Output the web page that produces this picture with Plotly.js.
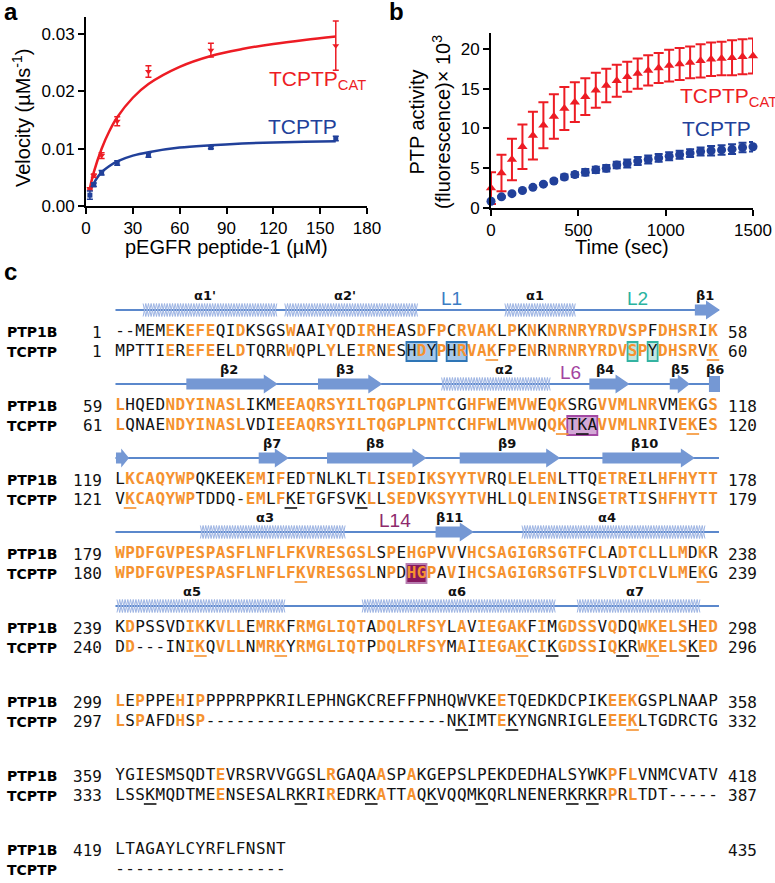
<!DOCTYPE html>
<html><head><meta charset="utf-8">
<script src="https://cdn.plot.ly/plotly-3.0.1.min.js"></script>
<style>html,body{margin:0;padding:0;background:#fff}</style>
</head><body><div id="chart" style="width:775px;height:883px"></div>
<script>
// ---------- Panel a: Michaelis-Menten ----------
const substrateUM = [2.5, 5, 10, 20, 40, 80, 160];
const velocityCat = [0.0030, 0.0053, 0.0088, 0.0148, 0.0235, 0.0272, 0.0280];
const velocityCatErr = [0.0002, 0.0003, 0.0005, 0.0008, 0.0010, 0.0012, 0.0043];
const velocityFull = [0.0019, 0.0037, 0.0058, 0.0075, 0.0089, 0.0102, 0.0118];
const velocityFullErr = [0.0007, 0.0003, 0.0004, 0.0004, 0.0004, 0.0002, 0.0004];
const fitSubstrate = [2.5, 5, 10, 15, 20, 30, 40, 60, 80, 100, 120, 140, 160];
const fitCat = [0.0031, 0.0059, 0.0100, 0.0131, 0.0155, 0.0189, 0.0213, 0.0243, 0.0262, 0.0274, 0.0283, 0.0290, 0.0296];
const fitFull = [0.0027, 0.0040, 0.0059, 0.0070, 0.0078, 0.0088, 0.0094, 0.0102, 0.0106, 0.0109, 0.0111, 0.0112, 0.0113];
const xTicksA = [0, 30, 60, 90, 120, 150, 180];
const yTicksA = [0, 0.01, 0.02, 0.03];
const yTickTextA = ['0.00', '0.01', '0.02', '0.03'];

// ---------- Panel b: time course ----------
const timeSec = [0, 60, 120, 180, 240, 300, 360, 420, 480, 540, 600, 660, 720, 780, 840, 900, 960, 1020, 1080, 1140, 1200, 1260, 1320, 1380, 1440, 1500];
const activityCat = [2.5, 4.4, 6.1, 7.7, 9.1, 10.4, 11.5, 12.5, 13.3, 14.0, 14.8, 15.4, 16.0, 16.5, 16.9, 17.3, 17.6, 17.9, 18.1, 18.3, 18.5, 18.7, 18.8, 18.9, 19.0, 19.1];
const activityCatErr = [2.0, 2.3, 2.6, 2.8, 3.0, 2.9, 2.8, 2.7, 2.5, 2.3, 2.2, 2.1, 2.0, 1.9, 1.9, 1.9, 1.9, 2.0, 2.0, 2.0, 2.1, 2.1, 2.1, 2.2, 2.2, 2.2];
const activityFull = [0.85, 1.4, 1.8, 2.2, 2.6, 3.0, 3.4, 3.9, 4.2, 4.5, 4.8, 5.0, 5.4, 5.6, 5.9, 6.1, 6.3, 6.5, 6.7, 6.9, 7.1, 7.2, 7.3, 7.4, 7.6, 7.7];
const activityFullErr = [0.1, 0.1, 0.1, 0.1, 0.1, 0.1, 0.2, 0.3, 0.3, 0.4, 0.4, 0.4, 0.4, 0.5, 0.5, 0.5, 0.5, 0.5, 0.5, 0.5, 0.5, 0.6, 0.6, 0.6, 0.6, 0.6];
const xTicksB = [0, 500, 1000, 1500];
const yTicksB = [0, 5, 10, 15, 20];

// ---------- Panel c: alignment ----------
const seqNames = ['PTP1B', 'TCPTP'];
const ptp1bBlocks = [
  '--MEMEKEFEQIDKSGSWAAIYQDIRHEASDFPCRVAKLPKNKNRNRYRDVSPFDHSRIK',
  'LHQEDNDYINASLIKMEEAQRSYILTQGPLPNTCGHFWEMVWEQKSRGVVMLNRVMEKGS',
  'LKCAQYWPQKEEKEMIFEDTNLKLTLISEDIKSYYTVRQLELENLTTQETREILHFHYTT',
  'WPDFGVPESPASFLNFLFKVRESGSLSPEHGPVVVHCSAGIGRSGTFCLADTCLLLMDKR',
  'KDPSSVDIKKVLLEMRKFRMGLIQTADQLRFSYLAVIEGAKFIMGDSSVQDQWKELSHED',
  'LEPPPEHIPPPPRPPKRILEPHNGKCREFFPNHQWVKEETQEDKDCPIKEEKGSPLNAAP',
  'YGIESMSQDTEVRSRVVGGSLRGAQAASPAKGEPSLPEKDEDHALSYWKPFLVNMCVATV',
  'LTAGAYLCYRFLFNSNT'
];
const tcptpBlocks = [
  'MPTTIEREFEELDTQRRWQPLYLEIRNESHDYPHRVAKFPENRNRNRYRDVSPYDHSRVK',
  'LQNAENDYINASLVDIEEAQRSYILTQGPLPNTCCHFWLMVWQQKTKAVVMLNRIVEKES',
  'VKCAQYWPTDDQ-EMLFKETGFSVKLLSEDVKSYYTVHLLQLENINSGETRTISHFHYTT',
  'WPDFGVPESPASFLNFLFKVRESGSLNPDHGPAVIHCSAGIGRSGTFSLVDTCLVLMEKG',
  'DD---INIKQVLLNMRKYRMGLIQTPDQLRFSYMAIIEGAKCIKGDSSIQKRWKELSKED',
  'LSPAFDHSP------------------------NKIMTEKYNGNRIGLEEEKLTGDRCTG',
  'LSSKMQDTMEENSESALRKRIREDRKATTAQKVQQMKQRLNENERKRKRPRLTDT-----',
  '-----------------'
];
// underlined TCPTP columns per block
const tcptpUnderlined = [[37, 59], [44, 46, 57], [1, 17, 24], [18, 58], [8, 16, 40, 43, 50, 53, 57], [34, 39, 51], [3, 18, 25, 31, 36, 45, 47], []];
// boxed TCPTP residues: block, first column, last column, loop
const boxBlock = [0, 0, 0, 0, 1, 3];
const boxFrom = [29, 33, 51, 53, 45, 29];
const boxTo = [31, 34, 51, 53, 47, 30];
const boxLoop = ['L1', 'L1', 'L2', 'L2', 'L6', 'L14'];
// secondary structure (column units)
const helixBlock = [0, 0, 0, 1, 3, 3, 4, 4, 4];
const helixFrom = [2.3, 16.4, 38.3, 32.0, 8.0, 40.0, -0.3, 24.1, 45.5];
const helixTo = [15.6, 29.6, 45.3, 42.8, 22.4, 58.2, 16.4, 43.3, 57.7];
const strandBlock = [0, 1, 1, 1, 1, 1, 2, 2, 2, 2, 2, 3];
const strandFrom = [57.2, 6.6, 19.7, 46.7, 54.7, 58.6, -0.4, 13.8, 20.6, 33.8, 48.0, 31.4];
const strandTo = [59.7, 15.7, 26.1, 50.7, 56.7, 59.7, 0.9, 16.8, 30.5, 43.8, 57.2, 35.2];
const strandHead = [true, true, true, true, true, false, true, true, true, true, true, true];
const ssLineBlocks = [0, 1, 2, 3, 4];
const ssLabelBlock = [0, 0, 0, 0, 0, 0, 1, 1, 1, 1, 1, 1, 1, 2, 2, 2, 2, 3, 3, 3, 3, 4, 4, 4];
const ssLabelText = ["α1'", "α2'", 'L1', 'α1', 'L2', 'β1', 'β2', 'β3', 'α2', 'L6', 'β4', 'β5', 'β6', 'β7', 'β8', 'β9', 'β10', 'α3', 'L14', 'β11', 'α4', 'α5', 'α6', 'α7'];
const ssLabelCol = [8.5, 22.4, 33.0, 41.3, 51.5, 58.2, 10.8, 22.4, 38.2, 44.8, 48.3, 55.7, 59.2, 15.1, 25.4, 38.5, 52.2, 14.4, 27.4, 32.8, 48.5, 7.2, 33.5, 51.2];

// ---------- styles ----------
const RED = '#ED1C24', BLUE = '#21409A', ORANGE = '#F5922F';
const SANS = 'Liberation Sans, Arial, sans-serif';
const MONO = 'DejaVu Sans Mono, monospace';
const LOOP = {
  L1: {text: '#3C7DC4', line: '#2E75B6', fill: '#A7C8E8'},
  L2: {text: '#2AB3A0', line: '#34B3A2', fill: '#C4E6E0'},
  L6: {text: '#A3449F', line: '#A349A4', fill: '#D3A8D6'},
  L14: {text: '#8E2A6C', line: '#B77DB0', fill: '#86195F'}
};
const W = 775, H = 883;
const X0 = 120, CW = 10.05;
const colX = c => X0 + CW * c;
const rowP = b => 332 + 74 * b;
const rowT = b => rowP(b) + 19.5;
const rowS = b => rowP(b) - 22;
const px = x => x / W, py = y => 1 - y / H;

const traces = [];
// panel a
traces.push({x: fitSubstrate, y: fitCat, mode: 'lines', line: {color: RED, width: 2.5, shape: 'spline'}, xaxis: 'x', yaxis: 'y', hoverinfo: 'skip'});
traces.push({x: fitSubstrate, y: fitFull, mode: 'lines', line: {color: BLUE, width: 2.5, shape: 'spline'}, xaxis: 'x', yaxis: 'y', hoverinfo: 'skip'});
traces.push({x: substrateUM, y: velocityCat, mode: 'markers', marker: {symbol: 'triangle-down', size: 6, color: RED},
  error_y: {type: 'data', array: velocityCatErr, color: RED, thickness: 1.5, width: 3}, xaxis: 'x', yaxis: 'y', cliponaxis: false});
traces.push({x: substrateUM, y: velocityFull, mode: 'markers', marker: {symbol: 'square', size: 5, color: BLUE},
  error_y: {type: 'data', array: velocityFullErr, color: BLUE, thickness: 1.5, width: 3}, xaxis: 'x', yaxis: 'y', cliponaxis: false});
// panel b
traces.push({x: timeSec, y: activityCat, mode: 'markers', marker: {symbol: 'triangle-up', size: 9, color: RED},
  error_y: {type: 'data', array: activityCatErr, color: RED, thickness: 2, width: 5}, xaxis: 'x2', yaxis: 'y2', cliponaxis: false});
traces.push({x: timeSec, y: activityFull, mode: 'markers', marker: {symbol: 'circle', size: 9, color: BLUE},
  error_y: {type: 'data', array: activityFullErr, color: BLUE, thickness: 2, width: 4}, xaxis: 'x2', yaxis: 'y2', cliponaxis: false});

// panel c: secondary structure
const lx = [], ly = [];
ssLineBlocks.forEach(b => { lx.push(colX(-0.45), colX(59.6), null); ly.push(rowS(b), rowS(b), null); });
traces.push({x: lx, y: ly, mode: 'lines', line: {color: '#5B88CC', width: 2}, xaxis: 'x3', yaxis: 'y3', hoverinfo: 'skip'});
const hx = [], hy = [];
helixBlock.forEach((b, i) => {
  const x0 = colX(helixFrom[i]), x1 = colX(helixTo[i]);
  const n = Math.max(2, Math.round((x1 - x0) / 2.7));
  for (const ph of [1, -1]) {
    for (let k = 0; k <= n; k++) { hx.push(x0 + k * (x1 - x0) / n); hy.push(rowS(b) + ph * (k % 2 ? 6.5 : -6.5)); }
    hx.push(null); hy.push(null);
  }
});
traces.push({x: hx, y: hy, mode: 'lines', line: {color: '#9DB4E3', width: 1}, xaxis: 'x3', yaxis: 'y3', hoverinfo: 'skip'});
strandBlock.forEach((b, i) => {
  const x0 = colX(strandFrom[i]), x1 = colX(strandTo[i]), y = rowS(b);
  let xs, ys;
  if (strandHead[i]) {
    const hl = Math.min(14, (x1 - x0) * 0.6);
    xs = [x0, x1 - hl, x1 - hl, x1, x1 - hl, x1 - hl, x0, x0];
    ys = [y - 5.5, y - 5.5, y - 9.5, y, y + 9.5, y + 5.5, y + 5.5, y - 5.5];
  } else {
    xs = [x0, x1, x1, x0, x0]; ys = [y - 8, y - 8, y + 8, y + 8, y - 8];
  }
  traces.push({x: xs, y: ys, mode: 'lines', fill: 'toself', fillcolor: '#7598D4', line: {width: 0, color: '#7598D4'}, xaxis: 'x3', yaxis: 'y3', hoverinfo: 'skip'});
});

// panel c: residues
const oX = [], oY = [], oT = [], kX = [], kY = [], kT = [];
ptp1bBlocks.forEach((pSeq, b) => {
  const tSeq = tcptpBlocks[b];
  for (let c = 0; c < pSeq.length; c++) {
    const a = pSeq[c], t = tSeq[c];
    const same = a === t && a !== '-';
    [[a, rowP(b)], [t, rowT(b)]].forEach(([ch, y]) => {
      if (same) { oX.push(colX(c)); oY.push(y); oT.push(ch); }
      else { kX.push(colX(c)); kY.push(y); kT.push(ch); }
    });
  }
});
traces.push({x: kX, y: kY, text: kT, mode: 'text', textposition: 'middle center', textfont: {family: MONO, size: 16, color: '#111'}, xaxis: 'x3', yaxis: 'y3', hoverinfo: 'skip', cliponaxis: false});
traces.push({x: oX, y: oY, text: oT, mode: 'text', textposition: 'middle center', textfont: {family: MONO, size: 16, color: ORANGE, weight: 'bold'}, xaxis: 'x3', yaxis: 'y3', hoverinfo: 'skip', cliponaxis: false});
// underlines
const uX = [], uY = [], uC = [];
tcptpUnderlined.forEach((cols, b) => cols.forEach(c => {
  uX.push(colX(c)); uY.push(rowT(b) + 8.5);
  uC.push(ptp1bBlocks[b][c] === tcptpBlocks[b][c] ? ORANGE : '#111');
}));
traces.push({x: uX, y: uY, mode: 'markers', marker: {symbol: 'line-ew', size: 9, line: {width: 1.6, color: uC}}, xaxis: 'x3', yaxis: 'y3', hoverinfo: 'skip', cliponaxis: false});

// shapes: boxes
const shapes = boxBlock.map((b, i) => ({
  type: 'rect', xref: 'x3', yref: 'y3', layer: 'below',
  x0: colX(boxFrom[i]) - 5, x1: colX(boxTo[i]) + 5, y0: rowT(b) - 9.5, y1: rowT(b) + 9.5,
  line: {color: LOOP[boxLoop[i]].line, width: 1.8}, fillcolor: LOOP[boxLoop[i]].fill
}));

// annotations
const ann = [];
const A = (o) => ann.push(Object.assign({showarrow: false, xref: 'paper', yref: 'paper', yanchor: 'middle'}, o));
A({x: px(2), y: py(11), xanchor: 'left', text: '<b>a</b>', font: {family: SANS, size: 24}});
A({x: px(387), y: py(11), xanchor: 'left', text: '<b>b</b>', font: {family: SANS, size: 24}});
A({x: px(2), y: py(272), xanchor: 'left', text: '<b>c</b>', font: {family: SANS, size: 24}});
A({x: px(226), y: py(247), xanchor: 'center', text: 'pEGFR peptide-1 (µM)', font: {family: SANS, size: 20}});
A({x: px(22), y: py(118), xanchor: 'center', textangle: -90, text: 'Velocity (µMs<sup>-1</sup>)', font: {family: SANS, size: 20}});
A({x: px(622), y: py(247), xanchor: 'center', text: 'Time (sec)', font: {family: SANS, size: 20}});
A({x: px(430), y: py(122), xanchor: 'center', textangle: -90, text: 'PTP activity<br>(fluorescence)× 10<sup>3</sup>', font: {family: SANS, size: 20}});
A({xref: 'x', yref: 'y', x: 116, y: 0.0220, xanchor: 'left', text: 'TCPTP<sub>CAT</sub>', font: {family: SANS, size: 21, color: RED}});
A({xref: 'x', yref: 'y', x: 115, y: 0.0138, xanchor: 'left', text: 'TCPTP', font: {family: SANS, size: 21, color: BLUE}});
A({xref: 'x2', yref: 'y2', x: 1071, y: 13.9, xanchor: 'left', text: 'TCPTP<sub>CAT</sub>', font: {family: SANS, size: 21, color: RED}});
A({xref: 'x2', yref: 'y2', x: 1082, y: 10.0, xanchor: 'left', text: 'TCPTP', font: {family: SANS, size: 21, color: BLUE}});

// sequence names and numbers
const countRes = s => s.replace(/-/g, '').length;
const starts = [1, 1];
ptp1bBlocks.forEach((pSeq, b) => {
  [pSeq, tcptpBlocks[b]].forEach((s, r) => {
    const y = r === 0 ? rowP(b) : rowT(b);
    A({xref: 'x3', yref: 'y3', x: 5, y: y, xanchor: 'left', text: '<b>' + seqNames[r] + '</b>', font: {family: 'DejaVu Sans, sans-serif', size: 14, color: '#000'}});
    const n = countRes(s);
    if (n > 0) {
      A({xref: 'x3', yref: 'y3', x: 104, y: y, xanchor: 'right', text: String(starts[r]), font: {family: MONO, size: 16, color: '#111'}});
      A({xref: 'x3', yref: 'y3', x: 726, y: y, xanchor: 'left', text: String(starts[r] + n - 1), font: {family: MONO, size: 16, color: '#111'}});
    }
    starts[r] += n;
  });
});
// secondary-structure labels
ssLabelBlock.forEach((b, i) => {
  const t = ssLabelText[i];
  const loop = LOOP[t];
  if (loop) {
    A({xref: 'x3', yref: 'y3', x: colX(ssLabelCol[i]), y: rowS(b) - 12, xanchor: 'center', text: t, font: {family: SANS, size: 19, color: loop.text}});
  } else {
    A({xref: 'x3', yref: 'y3', x: colX(ssLabelCol[i]), y: rowS(b) - 15, xanchor: 'center', text: '<b>' + t + '</b>', font: {family: 'DejaVu Sans, sans-serif', size: 13, color: '#111'}});
  }
});

const axisCommon = {showgrid: false, zeroline: false, showline: true, linewidth: 2, linecolor: '#000', ticks: 'outside', ticklen: 6, tickwidth: 2, tickcolor: '#000', tickfont: {family: SANS, size: 17, color: '#000'}, fixedrange: true};
const layout = {
  width: W, height: H, margin: {l: 0, r: 0, t: 0, b: 0}, paper_bgcolor: '#fff', plot_bgcolor: 'rgba(0,0,0,0)',
  showlegend: false, font: {family: SANS, color: '#000'},
  xaxis: Object.assign({}, axisCommon, {domain: [px(86), px(367)], range: [0, 180], tickvals: xTicksA, anchor: 'y'}),
  yaxis: Object.assign({}, axisCommon, {domain: [py(206), py(17)], range: [0, 0.033], tickvals: yTicksA, ticktext: yTickTextA, anchor: 'x'}),
  xaxis2: Object.assign({}, axisCommon, {domain: [px(491), px(753)], range: [0, 1500], tickvals: xTicksB, anchor: 'y2'}),
  yaxis2: Object.assign({}, axisCommon, {domain: [py(208), py(33)], range: [0, 22], tickvals: yTicksB, anchor: 'x2'}),
  xaxis3: {domain: [0, 1], range: [0, W], visible: false, fixedrange: true, anchor: 'y3'},
  yaxis3: {domain: [0, py(288)], range: [H, 288], visible: false, fixedrange: true, anchor: 'x3'},
  shapes: shapes, annotations: ann
};
Plotly.newPlot('chart', traces, layout, {staticPlot: true});
</script></body></html>
